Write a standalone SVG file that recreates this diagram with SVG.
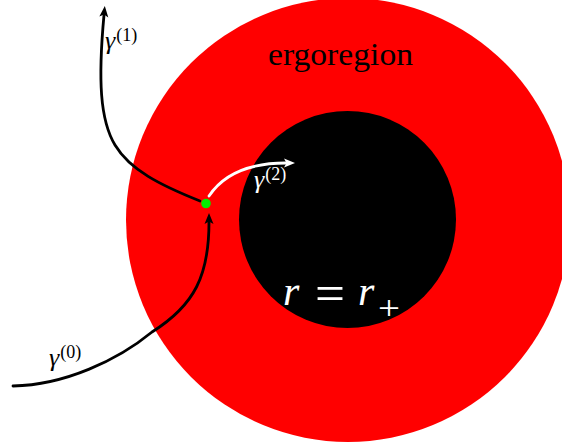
<svg xmlns="http://www.w3.org/2000/svg" width="562" height="445" viewBox="0 0 562 445">
<style>
.curve{fill:none;stroke-width:2.8;stroke-linecap:round}
.k{stroke:#000}
.w{stroke:#fff}
.lbl{font-family:"Liberation Serif","DejaVu Serif",serif}
.g{font-style:italic;font-size:26px}
.sup{font-size:18px;font-style:normal}
</style>
<defs>
<marker id="ak" markerUnits="userSpaceOnUse" markerWidth="14" markerHeight="12" viewBox="-1 -6 14 12" refX="2" refY="0" orient="auto">
<path d="M0,-4.5 L11,0 L0,4.5 L2.5,0 z" fill="#000"/>
</marker>
<marker id="aw" markerUnits="userSpaceOnUse" markerWidth="14" markerHeight="12" viewBox="-1 -6 14 12" refX="2" refY="0" orient="auto">
<path d="M0,-4.5 L11,0 L0,4.5 L2.5,0 z" fill="#fff"/>
</marker>
</defs>
<g id="ergoregion">
<circle cx="348" cy="220" r="222" fill="#ff0000"/>
<text class="lbl" x="268" y="65" font-size="32" textLength="145" lengthAdjust="spacingAndGlyphs" fill="#000">ergoregion</text>
</g>
<g id="horizon">
<circle cx="347.5" cy="219.5" r="108.5" fill="#000"/>
<g class="lbl" fill="#fff">
<text x="283" y="305" font-size="42" font-style="italic">r</text>
<text x="315" y="311" font-size="52" textLength="30" lengthAdjust="spacingAndGlyphs">=</text>
<text x="358" y="305" font-size="42" font-style="italic">r</text>
<text x="378" y="319" font-size="34" textLength="22" lengthAdjust="spacingAndGlyphs">+</text>
</g>
</g>
<g id="connectors">
<path class="curve k" d="M13,386 C65,385 118,360 152,332 C195,305 209,275 209,222" marker-end="url(#ak)"/>
<path class="curve k" d="M200,201 C160,185 130,170 115,145 C100,120 98,80 104,15" marker-end="url(#ak)"/>
<path class="curve w" d="M209,196 C225,172 252,163 286,163" marker-end="url(#aw)"/>
</g>
<g id="labels">
<text class="lbl g" x="49" y="366" fill="#000">γ<tspan class="sup" dx="1" dy="-8">(0)</tspan></text>
<text class="lbl g" x="105" y="49" fill="#000">γ<tspan class="sup" dx="1" dy="-8">(1)</tspan></text>
<text class="lbl g" x="254" y="188" fill="#fff">γ<tspan class="sup" dx="1" dy="-8">(2)</tspan></text>
</g>
<g id="event">
<circle cx="206" cy="203.5" r="4.8" fill="#00ee00"/>
</g>
</svg>
